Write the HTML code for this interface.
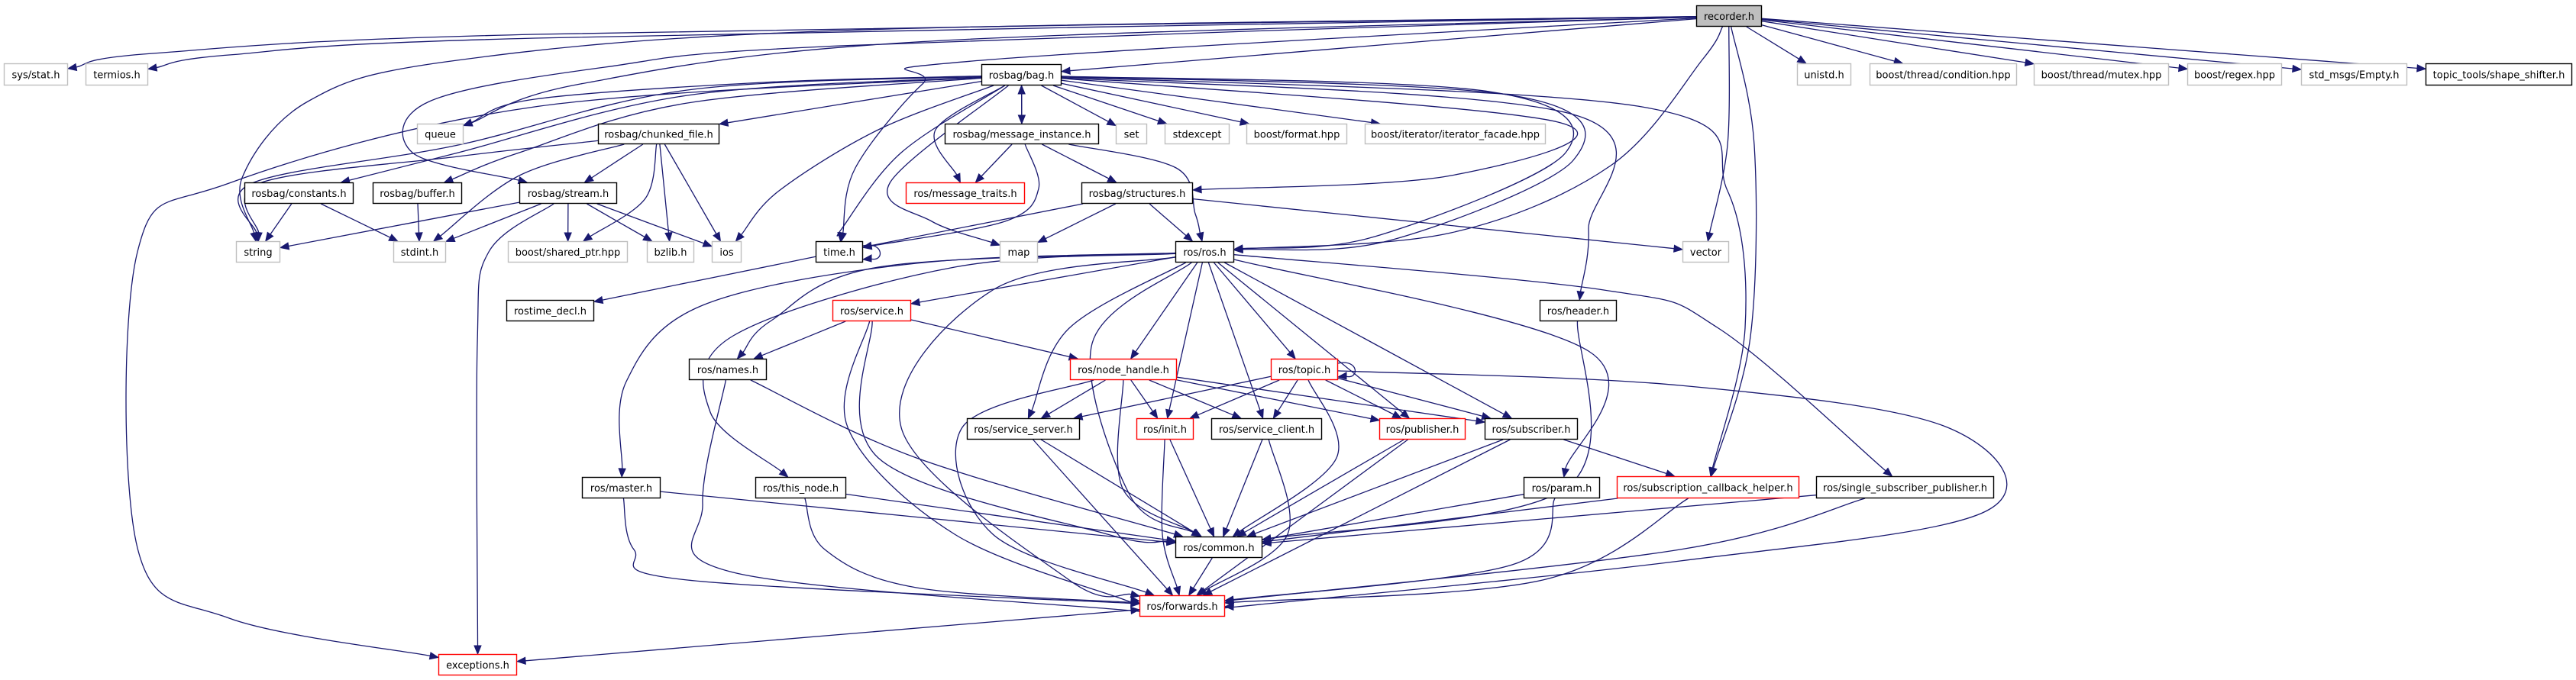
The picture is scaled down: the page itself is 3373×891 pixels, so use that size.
<!DOCTYPE html>
<html><head><meta charset="utf-8">
<style>
html,body{margin:0;padding:0;background:#fff;}
svg{display:block;}
text{font-family:"DejaVu Sans","Liberation Sans",sans-serif;font-size:13px;fill:#000;}
</style></head>
<body>
<svg id="g" xmlns="http://www.w3.org/2000/svg" width="3373" height="891" viewBox="0 0 3373 891">
<g id="edges" fill="none" stroke="#191970" stroke-width="1.3"></g>
<g id="arrows" fill="#191970" stroke="#191970" stroke-width="1"></g>
<g id="nodes"></g>
</svg>
<script>
var N={
recorder:[2221,7,2307,35,'recorder.h','f'],
sysstat:[5,83,89,112,'sys/stat.h','g'],
termios:[112,83,194,112,'termios.h','g'],
unistd:[2353,83,2424,112,'unistd.h','g'],
condition:[2448,83,2641,112,'boost/thread/condition.hpp','g'],
mutex:[2663,83,2840,112,'boost/thread/mutex.hpp','g'],
regex:[2864,83,2988,112,'boost/regex.hpp','g'],
empty:[3013,83,3152,112,'std_msgs/Empty.h','g'],
shape:[3176,83,3368,112,'topic_tools/shape_shifter.h','b'],
bag:[1285,84,1390,112,'rosbag/bag.h','b'],
queue:[546,162,607,189,'queue','g'],
chunked:[783,162,942,189,'rosbag/chunked_file.h','b'],
msginst:[1237,162,1439,189,'rosbag/message_instance.h','b'],
set:[1461,162,1502,189,'set','g'],
stdexcept:[1525,162,1610,189,'stdexcept','g'],
format:[1632,162,1764,189,'boost/format.hpp','g'],
facade:[1787,162,2024,189,'boost/iterator/iterator_facade.hpp','g'],
constants:[320,239,463,267,'rosbag/constants.h','b'],
buffer:[488,239,605,267,'rosbag/buffer.h','b'],
stream:[680,239,808,267,'rosbag/stream.h','b'],
msgtraits:[1186,239,1342,267,'ros/message_traits.h','r'],
structures:[1416,239,1562,267,'rosbag/structures.h','b'],
string:[309,316,367,344,'string','g'],
stdint:[515,316,584,344,'stdint.h','g'],
sharedptr:[665,316,822,344,'boost/shared_ptr.hpp','g'],
bzlib:[847,316,909,344,'bzlib.h','g'],
ios:[932,316,971,344,'ios','g'],
time:[1068,316,1130,344,'time.h','b'],
map:[1309,316,1359,344,'map','g'],
ros:[1539,316,1616,344,'ros/ros.h','b'],
vector:[2203,316,2264,344,'vector','g'],
rostime:[663,393,778,421,'rostime_decl.h','b'],
service:[1090,393,1193,421,'ros/service.h','r'],
header:[2016,393,2117,421,'ros/header.h','b'],
names:[902,470,1004,498,'ros/names.h','b'],
nodehandle:[1401,470,1541,498,'ros/node_handle.h','r'],
topic:[1664,470,1752,498,'ros/topic.h','r'],
servserver:[1266,548,1414,576,'ros/service_server.h','b'],
init:[1488,548,1563,576,'ros/init.h','r'],
servclient:[1586,548,1731,576,'ros/service_client.h','b'],
publisher:[1806,548,1919,576,'ros/publisher.h','r'],
subscriber:[1944,548,2066,576,'ros/subscriber.h','b'],
master:[762,625,865,653,'ros/master.h','b'],
thisnode:[989,625,1108,653,'ros/this_node.h','b'],
param:[1995,625,2095,653,'ros/param.h','b'],
subcb:[2117,624,2356,653,'ros/subscription_callback_helper.h','r'],
singlesub:[2378,624,2611,653,'ros/single_subscriber_publisher.h','b'],
common:[1539,703,1653,731,'ros/common.h','b'],
forwards:[1492,780,1604,808,'ros/forwards.h','r'],
exceptions:[574,857,677,885,'exceptions.h','r']
};
var E=[
['recorder','sysstat',[[700,45],[200,70]]],
['recorder','termios',[[700,50],[300,72]]],
['recorder','queue',[[1200,55],[760,110]]],
['recorder','string',[[1100,40],[591,80],[403,133],[317,233]]],
['recorder','stream',[[1100,60],[792,88],[562,133],[540,200]]],
['recorder','bag',[]],
['recorder','time',[[1273,80],[1208,110],[1120,220]]],
['recorder','ros',[[2230,77],[2109,217],[1900,305]]],
['recorder','vector',[[2262,190]]],
['recorder','subcb',[[2297,190],[2292,441]]],
['recorder','unistd',[]],['recorder','condition',[]],['recorder','mutex',[]],
['recorder','regex',[]],['recorder','empty',[]],['recorder','shape',[]],
['bag','queue',[[1000,108],[700,130]]],
['bag','string',[[900,118],[600,190],[330,240]]],
['bag','constants',[[900,125],[600,200]]],
['bag','buffer',[[900,135],[680,200]]],
['bag','chunked',[]],
['bag','ios',[[1150,170],[1020,250]]],
['bag','time',[[1180,200],[1102,300]]],
['bag','msginst',[]],
['msginst','bag',[]],
['bag','msgtraits',[[1225,170]]],
['bag','map',[[1165,240],[1220,290]]],
['bag','set',[]],['bag','stdexcept',[]],['bag','format',[]],['bag','facade',[]],
['bag','structures',[[2040,160],[1900,230]]],
['bag','ros',[[1950,120],[2050,200],[1800,310]]],
['bag','ros',[[1980,125],[2060,210],[1820,315]]],
['bag','header',[[2060,150],[2080,300]]],
['bag','subcb',[[2150,140],[2262,250],[2285,430]]],
['bag','exceptions',[[700,140],[300,240],[180,330],[180,718],[300,810]]],
['stream','exceptions',[[640,330],[625,450]]],
['msginst','time',[[1360,247],[1316,290]]],
['msginst','msgtraits',[]],
['msginst','structures',[]],
['msginst','ros',[[1540,220],[1565,280]]],
['chunked','string',[[600,205],[340,240]]],
['chunked','stdint',[[680,230]]],
['chunked','stream',[]],['chunked','sharedptr',[[845,260]]],['chunked','bzlib',[]],['chunked','ios',[]],
['constants','string',[]],['constants','stdint',[]],
['buffer','stdint',[]],
['stream','string',[]],['stream','stdint',[]],['stream','sharedptr',[]],['stream','bzlib',[]],['stream','ios',[]],
['structures','time',[]],['structures','map',[]],['structures','ros',[]],['structures','vector',[]],
['time','rostime',[]],
['ros','service',[]],
['ros','names',[[1150,350],[1010,420]]],
['ros','master',[[1200,345],[920,400],[820,500]]],
['ros','thisnode',[[1250,350],[960,440],[930,540]]],
['ros','nodehandle',[]],['ros','init',[]],['ros','servserver',[[1400,430]]],['ros','servclient',[]],
['ros','topic',[]],['ros','publisher',[]],['ros','subscriber',[]],
['ros','common',[[1430,450],[1480,650]]],
['ros','forwards',[[1300,380],[1180,560],[1400,760]]],
['ros','param',[[2080,460]]],
['ros','singlesub',[[2100,380],[2250,430]]],
['topic','forwards',[[2200,505],[2550,560],[2600,670],[2200,735],[1620,795]]],
['service','names',[]],['service','nodehandle',[]],
['service','common',[[1150,600],[1450,700]]],
['service','forwards',[[1110,560],[1250,700],[1470,785]]],
['names','common',[[1200,600]]],
['names','forwards',[[920,660],[960,750],[1480,800]]],
['nodehandle','servserver',[]],['nodehandle','init',[]],['nodehandle','servclient',[]],
['nodehandle','publisher',[]],['nodehandle','subscriber',[]],
['nodehandle','common',[[1470,640]]],
['nodehandle','forwards',[[1260,560],[1300,700]]],
['topic','servserver',[]],['topic','init',[]],['topic','servclient',[]],['topic','publisher',[]],['topic','subscriber',[]],
['topic','common',[[1750,600]]],
['servserver','common',[]],['servserver','forwards',[]],
['init','common',[]],['init','forwards',[[1522,700]]],
['servclient','common',[]],['servclient','forwards',[[1686,700]]],
['publisher','common',[]],['publisher','forwards',[]],
['subscriber','common',[]],['subscriber','forwards',[]],['subscriber','subcb',[]],
['master','common',[]],['master','forwards',[[830,720],[900,760]]],
['thisnode','common',[]],['thisnode','forwards',[[1080,720],[1200,770]]],
['param','common',[]],['param','forwards',[[1980,740]]],
['subcb','common',[]],['subcb','forwards',[[2020,760]]],
['singlesub','common',[]],['singlesub','forwards',[[2200,720]]],
['header','common',[[2050,640]]],
['common','forwards',[]],
['forwards','exceptions',[]]
];
function C(n){var r=N[n];return[(r[0]+r[2])/2,(r[1]+r[3])/2];}
function port(n,p){var r=N[n],c=C(n),dx=p[0]-c[0],dy=p[1]-c[1];
 var hw=(r[2]-r[0])/2,hh=(r[3]-r[1])/2;
 if(dx==0&&dy==0)return c;
 var t=Math.min(dx!=0?hw/Math.abs(dx):1e9,dy!=0?hh/Math.abs(dy):1e9);
 return[c[0]+dx*t,c[1]+dy*t];}
var ns='http://www.w3.org/2000/svg';
var eg=document.getElementById('edges'),ag=document.getElementById('arrows'),ng=document.getElementById('nodes');
function el(t,a,p){var e=document.createElementNS(ns,t);for(var k in a)e.setAttribute(k,a[k]);p.appendChild(e);return e;}
var cnt={};
E.forEach(function(e){
 var a=e[0],b=e[1],v=e[2]||[];
 var key=a+'>'+b;cnt[key]=(cnt[key]||0)+1;
 var ca=C(a),cb=C(b);
 var s=port(a,v.length?v[0]:cb);
 var t=port(b,v.length?v[v.length-1]:ca);
 var pts=[s].concat(v).concat([t]);
 // shorten end for arrow
 var pl=pts[pts.length-2],dx=t[0]-pl[0],dy=t[1]-pl[1],L=Math.sqrt(dx*dx+dy*dy)||1;
 var ux=dx/L,uy=dy/L,al=11,aw=4.5;
 var te=[t[0]-ux*al,t[1]-uy*al];
 pts[pts.length-1]=te;
 var d='M'+pts[0][0].toFixed(1)+','+pts[0][1].toFixed(1);
 for(var i=0;i<pts.length-1;i++){
  var p0=pts[i-1]||pts[i],p1=pts[i],p2=pts[i+1],p3=pts[i+2]||pts[i+1];
  var c1=[p1[0]+(p2[0]-p0[0])/6,p1[1]+(p2[1]-p0[1])/6];
  var c2=[p2[0]-(p3[0]-p1[0])/6,p2[1]-(p3[1]-p1[1])/6];
  d+=' C'+c1[0].toFixed(1)+','+c1[1].toFixed(1)+' '+c2[0].toFixed(1)+','+c2[1].toFixed(1)+' '+p2[0].toFixed(1)+','+p2[1].toFixed(1);
 }
 el('path',{d:d},eg);
 el('polygon',{points:t[0]+','+t[1]+' '+(te[0]-uy*aw)+','+(te[1]+ux*aw)+' '+(te[0]+uy*aw)+','+(te[1]-ux*aw)},ag);
});
// self loops
[['time',1130,322,1130,340],['topic',1752,476,1752,494]].forEach(function(s){
 el('path',{d:'M'+s[1]+','+(s[2])+' C'+(s[1]+28)+','+(s[2]-6)+' '+(s[1]+28)+','+(s[4]+4)+' '+(s[3]+10)+','+(s[4]-1)},eg);
 el('polygon',{points:s[3]+','+s[4]+' '+(s[3]+11)+','+(s[4]-6)+' '+(s[3]+11)+','+(s[4]+3)},ag);
});
for(var k in N){var r=N[k];
 var st=r[5]=='g'?'#bfbfbf':(r[5]=='r'?'#ff0000':'#000');
 el('rect',{x:r[0]+0.5,y:r[1]+0.5,width:r[2]-r[0]-1,height:r[3]-r[1]-1,fill:r[5]=='f'?'#bfbfbf':'#fff',stroke:st,'stroke-width':1.4},ng);
 var t=el('text',{x:(r[0]+r[2])/2,y:(r[1]+r[3])/2+5,'text-anchor':'middle'},ng);t.textContent=r[4];
}
</script>
</body></html>
